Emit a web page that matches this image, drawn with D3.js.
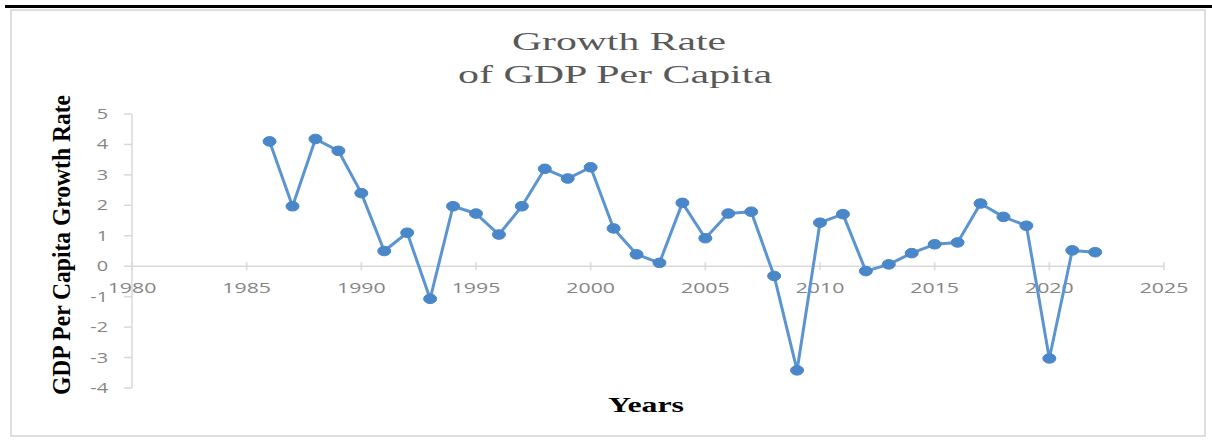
<!DOCTYPE html>
<html>
<head>
<meta charset="utf-8">
<script src="https://cdn.jsdelivr.net/npm/d3@7"></script>
<style>
  html, body { margin: 0; padding: 0; background: #ffffff; }
  svg { display: block; }
</style>
</head>
<body>
<svg id="chart" width="1212" height="441"></svg>
<script>
// ---- data ----
const years = [1986,1987,1988,1989,1990,1991,1992,1993,1994,1995,1996,1997,1998,1999,2000,2001,2002,2003,2004,2005,2006,2007,2008,2009,2010,2011,2012,2013,2014,2015,2016,2017,2018,2019,2020,2021,2022];
const growth = [4.1,1.97,4.18,3.79,2.4,0.5,1.1,-1.07,1.97,1.73,1.04,1.97,3.2,2.88,3.25,1.24,0.39,0.11,2.08,0.92,1.73,1.79,-0.32,-3.42,1.43,1.71,-0.16,0.06,0.43,0.72,0.78,2.06,1.62,1.33,-3.03,0.52,0.46];
const xTicks = [1980,1985,1990,1995,2000,2005,2010,2015,2020,2025];
const yTicks = [-4,-3,-2,-1,0,1,2,3,4,5];
const titleLines = ["Growth Rate", "of GDP Per Capita"];
const yTitle = "GDP Per Capita Growth Rate";
const xTitle = "Years";

const svg = d3.select("#chart");

// top rule and frame
svg.append("rect").attr("x", 5).attr("y", 5).attr("width", 1207).attr("height", 3).attr("fill", "#000");
svg.append("rect").attr("x", 11).attr("y", 10).attr("width", 1194).attr("height", 426)
  .attr("fill", "#fff").attr("stroke", "#d4d4d4").attr("stroke-width", 1.5);

const x = d3.scaleLinear().domain([1980, 2025]).range([132, 1164]);
const y = d3.scaleLinear().domain([-4, 5]).range([388, 114]);

const axisColor = "#d9d9d9";
const labelColor = "#858585";
const sx = 1.42; // horizontal stretch of the text in the reference

// y axis
svg.append("line").attr("x1", x(1980)).attr("x2", x(1980)).attr("y1", y(5)).attr("y2", y(-4))
  .attr("stroke", axisColor).attr("stroke-width", 1.5);
svg.selectAll(".ytick").data(yTicks).enter().append("line")
  .attr("x1", x(1980) - 8).attr("x2", x(1980)).attr("y1", d => y(d)).attr("y2", d => y(d))
  .attr("stroke", axisColor).attr("stroke-width", 1.5);
svg.selectAll(".ylab").data(yTicks).enter().append("text")
  .attr("transform", d => `translate(108,${y(d) + 5}) scale(${sx},1)`)
  .attr("text-anchor", "end")
  .attr("font-family", "Open Sans, Liberation Sans, sans-serif")
  .attr("font-size", 14).attr("fill", labelColor)
  .text(d => d);

// x axis
svg.append("line").attr("x1", x(1980)).attr("x2", x(2025)).attr("y1", y(0)).attr("y2", y(0))
  .attr("stroke", axisColor).attr("stroke-width", 1.5);
svg.selectAll(".xtick").data(xTicks).enter().append("line")
  .attr("x1", d => x(d)).attr("x2", d => x(d)).attr("y1", y(0) - 4).attr("y2", y(0) + 4)
  .attr("stroke", axisColor).attr("stroke-width", 1.5);
svg.selectAll(".xlab").data(xTicks).enter().append("text")
  .attr("transform", d => `translate(${x(d)},293) scale(${sx},1)`)
  .attr("text-anchor", "middle")
  .attr("font-family", "Open Sans, Liberation Sans, sans-serif")
  .attr("font-size", 15).attr("fill", labelColor)
  .text(d => d);

// line + markers
const pts = years.map((yr, i) => ({ yr, v: growth[i] }));
svg.append("path").datum(pts)
  .attr("fill", "none").attr("stroke", "#5b95d1").attr("stroke-width", 3)
  .attr("stroke-linejoin", "round")
  .attr("d", d3.line().x(d => x(d.yr)).y(d => y(d.v)));
svg.selectAll(".pt").data(pts).enter().append("ellipse")
  .attr("cx", d => x(d.yr)).attr("cy", d => y(d.v))
  .attr("rx", 6.5).attr("ry", 4.8)
  .attr("fill", "#4a87c9").attr("stroke", "#4a87c9").attr("stroke-width", 1);

// title
const tl = [{ t: titleLines[0], cx: 619, by: 50, len: 214 }, { t: titleLines[1], cx: 615, by: 83, len: 314 }];
svg.selectAll(".title").data(tl).enter().append("text")
  .attr("x", d => d.cx).attr("y", d => d.by)
  .attr("text-anchor", "middle")
  .attr("font-family", "Liberation Serif, Times New Roman, serif")
  .attr("font-size", 26).attr("fill", "#595959")
  .attr("textLength", d => d.len).attr("lengthAdjust", "spacingAndGlyphs")
  .text(d => d.t);

// y axis title
svg.append("text")
  .attr("transform", "translate(70,245) rotate(-90)")
  .attr("text-anchor", "middle")
  .attr("font-family", "Liberation Serif, Times New Roman, serif")
  .attr("font-weight", "bold")
  .attr("font-size", 25).attr("fill", "#000")
  .attr("textLength", 300).attr("lengthAdjust", "spacingAndGlyphs")
  .text(yTitle);

// x axis title
svg.append("text")
  .attr("x", 646).attr("y", 412)
  .attr("text-anchor", "middle")
  .attr("font-family", "Liberation Serif, Times New Roman, serif")
  .attr("font-weight", "bold")
  .attr("font-size", 22).attr("fill", "#000")
  .attr("textLength", 76).attr("lengthAdjust", "spacingAndGlyphs")
  .text(xTitle);
</script>
</body>
</html>
